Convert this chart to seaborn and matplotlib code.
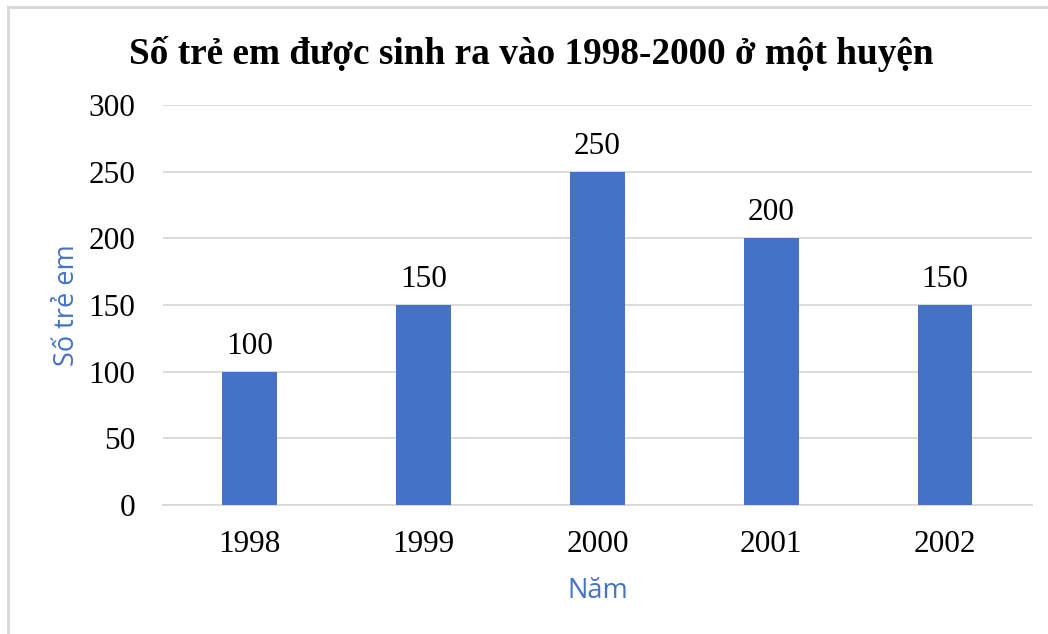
import matplotlib
matplotlib.use("Agg")
import matplotlib.pyplot as plt
import seaborn as sns
import pandas as pd
from matplotlib.patches import Rectangle

years = ["1998", "1999", "2000", "2001", "2002"]
births = [100, 150, 250, 200, 150]
y_ticks = [0, 50, 100, 150, 200, 250, 300]

title = "Số trẻ em được sinh ra vào 1998-2000 ở một huyện"
x_label = "Năm"
y_label = "Số trẻ em"

bar_color = "#4472C4"
grid_color = "#D9D9D9"

sns.set_theme(style="white")
plt.rcParams["font.family"] = ["Liberation Serif", "DejaVu Serif"]

df = pd.DataFrame({"year": years, "births": births})

fig = plt.figure(figsize=(10.48, 6.34), dpi=100)
fig.patch.set_facecolor("white")
ax = fig.add_axes([0.1555, 0.2035, 0.8292, 0.6309])

sns.barplot(data=df, x="year", y="births", order=years, color=bar_color,
            saturation=1, width=0.315, linewidth=0, ax=ax, zorder=3)

ax.set_ylim(0, 300)
ax.set_xlim(-0.5, len(years) - 0.5)
ax.set_yticks(y_ticks)
ax.yaxis.grid(True, color=grid_color, linewidth=1.3, zorder=0)
ax.set_axisbelow(True)
for side in ["top", "right", "left"]:
    ax.spines[side].set_visible(False)
ax.spines["bottom"].set_color(grid_color)
ax.spines["bottom"].set_linewidth(1.3)
ax.tick_params(axis="both", length=0, labelsize=22.5, colors="black")
ax.tick_params(axis="x", pad=18)
ax.tick_params(axis="y", pad=20)

for cont in ax.containers:
    ax.bar_label(cont, labels=[str(v) for v in births], padding=8,
                 fontsize=22.5, color="black")

ax.set_xlabel(x_label, fontsize=19.5, color=bar_color, family="Open Sans", labelpad=13)
ax.set_ylabel(y_label, fontsize=19.5, color=bar_color, family="Open Sans", labelpad=5)

fig.text(0.507, 0.915, title, ha="center", va="center", fontsize=26.8,
         fontweight="bold", color="black", family="Liberation Serif")

# outer chart frame
fig.patches.append(Rectangle((8 / 1048, -0.05), 1.2, 1 - 7 / 634 + 0.05,
                             transform=fig.transFigure, fill=False,
                             edgecolor="#D9D9D9", linewidth=2.2))

fig.savefig("out.png", dpi=100, facecolor="white")
